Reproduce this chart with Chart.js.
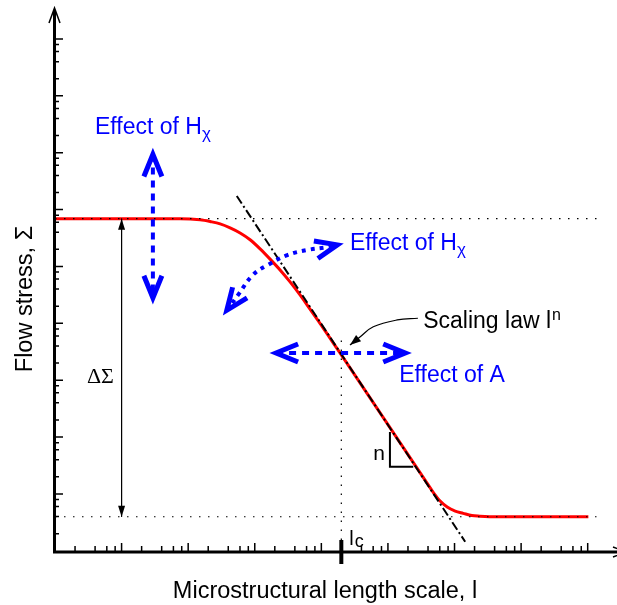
<!DOCTYPE html>
<html>
<head>
<meta charset="utf-8">
<script src="https://cdn.jsdelivr.net/npm/chart.js@4.4.1/dist/chart.umd.min.js"></script>
<style>
  html, body { margin: 0; padding: 0; background: #fff; }
  #wrap { width: 617px; height: 605px; }
</style>
</head>
<body>
<div id="wrap"><canvas id="chart" width="617" height="605"></canvas></div>
<script>
// both axes in decades (log10 units)
const curveX = [0, 1.88, 2.18, 2.33, 2.48, 2.63, 2.78, 2.93, 3.08, 3.23, 3.38, 3.53, 3.68, 3.83, 3.98, 4.13, 4.28,
                5.56, 5.68, 5.78, 5.89, 6.01, 6.13, 6.26, 6.38, 6.64, 8.01];
const curveY = [5.84, 5.84, 5.82, 5.79, 5.75, 5.68, 5.59, 5.47, 5.31, 5.13, 4.94, 4.73, 4.50, 4.25, 4.00, 3.74, 3.48,
                1.24, 1.03, 0.88, 0.77, 0.70, 0.66, 0.62, 0.61, 0.60, 0.60];

const tangentX = [2.73, 6.16];
const tangentY = [6.24, 0.16];

const upperLevel = 5.84;
const lowerLevel = 0.60;
const levelX = [0, 8.22];
const lc = 4.30;
const lcLineY = [0.19, 3.80];

const deltaX = 1.0;

const slopeTriX = [5.03, 5.03, 5.38];
const slopeTriY = [2.09, 1.48, 1.48];

// blue arrows, ends are where the arrowhead vertex sits
const hArrowX = [1.47, 1.47];
const hArrowY = [6.97, 4.45];
const aArrowX = [3.32, 5.26];
const aArrowY = [3.48, 3.48];
const curvedArrowX = [2.58, 2.75, 2.97, 3.20, 3.49, 3.79, 4.09, 4.24];
const curvedArrowY = [4.23, 4.50, 4.85, 5.03, 5.20, 5.29, 5.34, 5.38];
const lawArrowX = [5.45, 5.14, 4.78, 4.58, 4.43];
const lawArrowY = [4.09, 4.06, 3.94, 3.76, 3.62];

const xMajors = [1, 2, 3, 4, 5, 6, 7, 8];
const yMajors = [1, 2, 3, 4, 5, 6, 7, 8, 9];
const minorSteps = [2, 4, 6, 8];

const xMin = 0, xMax = 8.41, yMin = -0.02, yMax = 9.545;

const SANS = '"Liberation Sans", Arial, Helvetica, sans-serif';
const SERIF = '"Liberation Serif", "Times New Roman", serif';
const BLUE = '#0000ff';

function pts(xs, ys) {
  return xs.map((v, i) => ({ x: v, y: ys[i] }));
}

function line(data, color, width, dash, order, extra = {}) {
  return Object.assign({
    data, borderColor: color, borderWidth: width, borderDash: dash || [],
    pointRadius: 0, fill: false, tension: 0, order
  }, extra);
}

function chevron(ctx, tip, from, len, half, width, color) {
  const dx = tip.x - from.x, dy = tip.y - from.y;
  const d = Math.hypot(dx, dy) || 1;
  const ux = dx / d, uy = dy / d;
  const bx = tip.x - ux * len, by = tip.y - uy * len;
  ctx.save();
  ctx.strokeStyle = color;
  ctx.lineWidth = width;
  ctx.lineJoin = 'miter';
  ctx.miterLimit = 10;
  ctx.setLineDash([]);
  ctx.beginPath();
  ctx.moveTo(bx - uy * half, by + ux * half);
  ctx.lineTo(tip.x, tip.y);
  ctx.lineTo(bx + uy * half, by - ux * half);
  ctx.stroke();
  ctx.restore();
}

function solidHead(ctx, tip, from, len, half, color) {
  const dx = tip.x - from.x, dy = tip.y - from.y;
  const d = Math.hypot(dx, dy) || 1;
  const ux = dx / d, uy = dy / d;
  const bx = tip.x - ux * len, by = tip.y - uy * len;
  ctx.save();
  ctx.fillStyle = color;
  ctx.beginPath();
  ctx.moveTo(tip.x, tip.y);
  ctx.lineTo(bx - uy * half, by + ux * half);
  ctx.lineTo(bx + uy * half, by - ux * half);
  ctx.closePath();
  ctx.fill();
  ctx.restore();
}

function rich(ctx, parts, x, y, color) {
  ctx.save();
  ctx.fillStyle = color;
  ctx.textBaseline = 'alphabetic';
  ctx.textAlign = 'left';
  let cx = x;
  for (const p of parts) {
    ctx.font = p.size + 'px ' + (p.family || SANS);
    ctx.fillText(p.t, cx + (p.dx || 0), y + (p.dy || 0));
    cx += ctx.measureText(p.t).width + (p.dx || 0);
  }
  ctx.restore();
}

const drawing = {
  id: 'drawing',
  afterDatasetsDraw(chart) {
    const { ctx, chartArea: a, scales: { x, y } } = chart;
    const P = (vx, vy) => ({ x: x.getPixelForValue(vx), y: y.getPixelForValue(vy) });
    ctx.save();

    // axes
    ctx.strokeStyle = '#000';
    ctx.lineWidth = 3;
    ctx.beginPath();
    ctx.moveTo(a.left - 0.5, a.top + 2);
    ctx.lineTo(a.left - 0.5, a.bottom);
    ctx.lineTo(chart.width, a.bottom);
    ctx.stroke();
    ctx.lineWidth = 1.5;
    ctx.beginPath();
    ctx.moveTo(a.left - 6, a.top + 15);
    ctx.lineTo(a.left - 0.5, a.top);
    ctx.lineTo(a.left + 5, a.top + 15);
    ctx.moveTo(a.right - 2, a.bottom - 5);
    ctx.lineTo(a.right + 12, a.bottom);
    ctx.lineTo(a.right - 2, a.bottom + 5);
    ctx.stroke();

    // ticks
    ctx.lineWidth = 1.5;
    ctx.beginPath();
    for (let d = 0; d <= 8; d++) {
      if (xMajors.includes(d)) {
        const p = x.getPixelForValue(d);
        ctx.moveTo(p, a.bottom); ctx.lineTo(p, a.bottom - 9);
      }
      for (const m of minorSteps) {
        const v = d + Math.log10(m);
        if (v > 8) continue;
        const p = x.getPixelForValue(v);
        ctx.moveTo(p, a.bottom); ctx.lineTo(p, a.bottom - 6);
      }
    }
    for (let d = 0; d <= 9; d++) {
      if (yMajors.includes(d)) {
        const p = y.getPixelForValue(d);
        ctx.moveTo(a.left, p); ctx.lineTo(a.left + 8, p);
      }
      for (const m of minorSteps) {
        const v = d + Math.log10(m);
        if (v > 9 || v < yMin) continue;
        const p = y.getPixelForValue(v);
        ctx.moveTo(a.left, p); ctx.lineTo(a.left + 4, p);
      }
    }
    ctx.stroke();

    // l_c tick
    ctx.lineWidth = 4;
    ctx.beginPath();
    const lcp = x.getPixelForValue(lc);
    ctx.moveTo(lcp, a.bottom - 12);
    ctx.lineTo(lcp, a.bottom + 12);
    ctx.stroke();

    // arrowheads
    const ends = (xs, ys) => {
      const n = xs.length;
      return {
        s: P(xs[0], ys[0]), s2: P(xs[1], ys[1]),
        e: P(xs[n - 1], ys[n - 1]), e2: P(xs[n - 2], ys[n - 2])
      };
    };
    for (const [xs, ys] of [[hArrowX, hArrowY], [aArrowX, aArrowY], [curvedArrowX, curvedArrowY]]) {
      const k = ends(xs, ys);
      chevron(ctx, k.s, k.s2, 22, 9, 5, BLUE);
      chevron(ctx, k.e, k.e2, 22, 9, 5, BLUE);
    }
    const top = P(deltaX, upperLevel), bot = P(deltaX, lowerLevel);
    solidHead(ctx, top, bot, 11, 3.5, '#000');
    solidHead(ctx, bot, top, 11, 3.5, '#000');
    const law = ends(lawArrowX, lawArrowY);
    solidHead(ctx, law.e, law.e2, 11, 4, '#000');

    // texts
    let t = P(0.60, 7.33);
    rich(ctx, [{ t: 'Effect of H', size: 23 }, { t: 'χ', size: 17, dy: 5 }], t.x, t.y, BLUE);
    t = P(4.43, 5.29);
    rich(ctx, [{ t: 'Effect of H', size: 23 }, { t: 'χ', size: 17, dy: 5 }], t.x, t.y, BLUE);
    t = P(5.17, 2.97);
    rich(ctx, [{ t: 'Effect of A', size: 23 }], t.x, t.y, BLUE);
    t = P(5.53, 3.92);
    rich(ctx, [{ t: 'Scaling law l', size: 23 }, { t: 'n', size: 16, dx: 1, dy: -8 }], t.x, t.y, '#000');
    t = P(4.78, 1.60);
    rich(ctx, [{ t: 'n', size: 21 }], t.x, t.y, '#000');
    t = P(4.42, 0.10);
    rich(ctx, [{ t: 'l', size: 20 }, { t: 'c', size: 18, dx: 1, dy: 2 }], t.x, t.y, '#000');
    t = P(0.48, 2.95);
    rich(ctx, [{ t: 'ΔΣ', size: 22, family: SERIF }], t.x, t.y, '#000');

    // axis titles
    ctx.fillStyle = '#000';
    ctx.font = '23.5px ' + SANS;
    ctx.textAlign = 'center';
    ctx.textBaseline = 'alphabetic';
    ctx.fillText('Microstructural length scale, l', 325, 598);
    ctx.translate(32, 299);
    ctx.rotate(-Math.PI / 2);
    ctx.fillText('Flow stress, Σ', 0, 0);
    ctx.restore();
  }
};

new Chart(document.getElementById('chart'), {
  type: 'line',
  data: {
    datasets: [
      line(pts(levelX, [upperLevel, upperLevel]), '#000', 1.2, [1.5, 7.5], 1),
      line(pts(levelX, [lowerLevel, lowerLevel]), '#000', 1.2, [1.5, 7.5], 1),
      line(pts([lc, lc], lcLineY), '#000', 1.2, [1.5, 7.5], 1),
      line(pts(hArrowX, hArrowY), BLUE, 4, [7, 6], 0),
      line(pts(aArrowX, aArrowY), BLUE, 4, [7, 6], 0),
      line(pts(curvedArrowX, curvedArrowY), BLUE, 4, [4, 5], 0, { tension: 0.4 }),
      line(pts(tangentX, tangentY), '#000', 2, [9, 3, 2, 3], 2),
      line(pts(curveX, curveY), '#ff0000', 3, [], 3, { cubicInterpolationMode: 'monotone' }),
      line(pts([deltaX, deltaX], [upperLevel, lowerLevel]), '#000', 1, [], 2),
      line(pts(slopeTriX, slopeTriY), '#000', 2, [], 2),
      line(pts(lawArrowX, lawArrowY), '#000', 1.2, [], 2, { tension: 0.4 })
    ]
  },
  options: {
    responsive: false,
    devicePixelRatio: 1,
    animation: false,
    layout: { padding: { left: 55, right: 2, top: 8, bottom: 53 } },
    plugins: { legend: { display: false }, tooltip: { enabled: false } },
    scales: {
      x: { type: 'linear', min: xMin, max: xMax, display: false },
      y: { type: 'linear', min: yMin, max: yMax, display: false }
    }
  },
  plugins: [drawing]
});
</script>
</body>
</html>
